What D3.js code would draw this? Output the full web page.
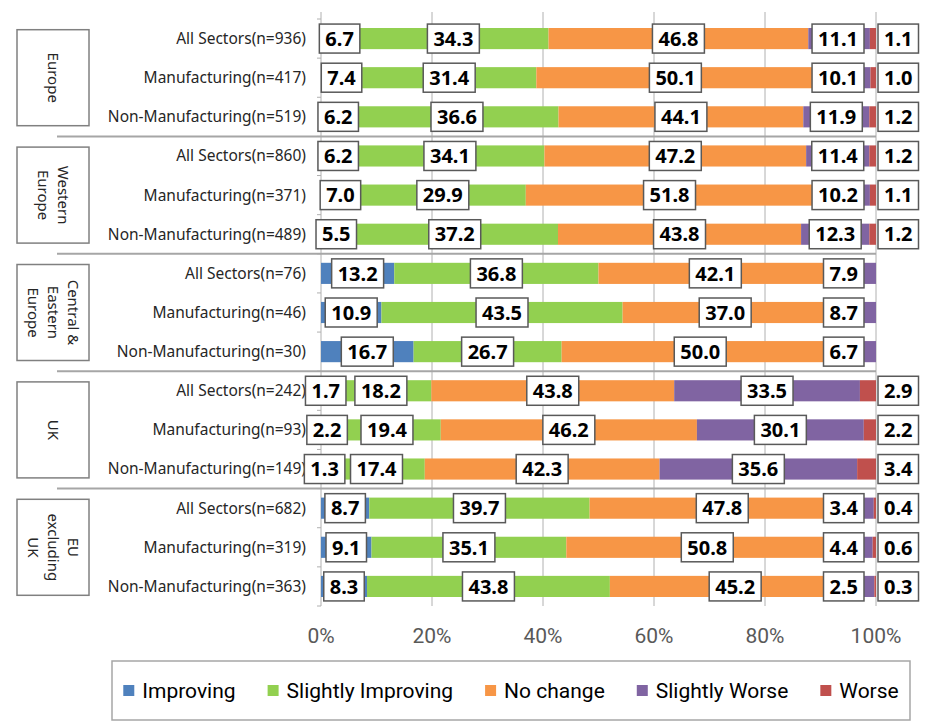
<!DOCTYPE html>
<html>
<head>
<meta charset="utf-8">
<script src="https://cdn.jsdelivr.net/npm/d3@7"></script>
<style>
	body { margin: 0; background: #fff; }
	svg { display: block; }
</style>
</head>
<body>
<svg id="chart" width="926" height="725"></svg>
<script>
const categories = [
	'All Sectors(n=936)', 'Manufacturing(n=417)', 'Non-Manufacturing(n=519)',
	'All Sectors(n=860)', 'Manufacturing(n=371)', 'Non-Manufacturing(n=489)',
	'All Sectors(n=76)', 'Manufacturing(n=46)', 'Non-Manufacturing(n=30)',
	'All Sectors(n=242)', 'Manufacturing(n=93)', 'Non-Manufacturing(n=149)',
	'All Sectors(n=682)', 'Manufacturing(n=319)', 'Non-Manufacturing(n=363)',
];
const groups = [
	['Europe'],
	['Western', 'Europe'],
	['Central &', 'Eastern', 'Europe'],
	['UK'],
	['EU', 'excluding', 'UK'],
];
const seriesNames = ['Improving', 'Slightly Improving', 'No change', 'Slightly Worse', 'Worse'];
const improving = [6.7, 7.4, 6.2, 6.2, 7.0, 5.5, 13.2, 10.9, 16.7, 1.7, 2.2, 1.3, 8.7, 9.1, 8.3];
const slightlyImproving = [34.3, 31.4, 36.6, 34.1, 29.9, 37.2, 36.8, 43.5, 26.7, 18.2, 19.4, 17.4, 39.7, 35.1, 43.8];
const noChange = [46.8, 50.1, 44.1, 47.2, 51.8, 43.8, 42.1, 37.0, 50.0, 43.8, 46.2, 42.3, 47.8, 50.8, 45.2];
const slightlyWorse = [11.1, 10.1, 11.9, 11.4, 10.2, 12.3, 7.9, 8.7, 6.7, 33.5, 30.1, 35.6, 3.4, 4.4, 2.5];
const worse = [1.1, 1.0, 1.2, 1.2, 1.1, 1.2, 0, 0, 0, 2.9, 2.2, 3.4, 0.4, 0.6, 0.3];
const xTicks = [0, 0.2, 0.4, 0.6, 0.8, 1];
const colors = ['#4f81bd', '#92d050', '#f79646', '#8064a2', '#c0504d'];

const seriesValues = [improving, slightlyImproving, noChange, slightlyWorse, worse];
const rows = categories.map((name, i) => {
	const row = { i, name };
	seriesNames.forEach((s, k) => { row[s] = seriesValues[k][i]; });
	return row;
});

const svg = d3.select('#chart');
const x = d3.scaleLinear().domain([0, 1]).range([321, 876]);
const y = d3.scaleBand().domain(rows.map(d => d.i)).range([19, 606]).paddingInner(0.46).paddingOuter(0.23);
const color = d3.scaleOrdinal().domain(seriesNames).range(colors);
const stacked = d3.stack().keys(seriesNames).offset(d3.stackOffsetExpand)(rows);
const step = y.step();
const plotTop = y(0) - y.paddingOuter() * step;

// gridlines
svg.append('g').selectAll('line').data(xTicks).enter().append('line')
	.attr('x1', d => x(d)).attr('x2', d => x(d))
	.attr('y1', 12).attr('y2', 606)
	.attr('stroke', '#b0b0b0').attr('stroke-width', 1);

// small ticks on category axis
svg.append('g').selectAll('line').data(d3.range(categories.length + 1)).enter().append('line')
	.attr('x1', x(0) - 4).attr('x2', x(0))
	.attr('y1', d => plotTop + d * step).attr('y2', d => plotTop + d * step)
	.attr('stroke', '#b0b0b0');

// group separators
svg.append('g').selectAll('line').data([1, 2, 3, 4]).enter().append('line')
	.attr('x1', 57).attr('x2', x(1))
	.attr('y1', d => plotTop + d * 3 * step).attr('y2', d => plotTop + d * 3 * step)
	.attr('stroke', '#a6a6a6').attr('stroke-width', 2);

// bars
svg.append('g').selectAll('g').data(stacked).enter().append('g')
	.attr('fill', d => color(d.key))
	.selectAll('rect').data(d => d).enter().append('rect')
	.attr('x', d => x(d[0])).attr('width', d => x(d[1]) - x(d[0]))
	.attr('y', d => y(d.data.i)).attr('height', y.bandwidth());

// category labels
svg.append('g').selectAll('text').data(rows).enter().append('text')
	.attr('x', 306).attr('y', d => y(d.i) + y.bandwidth() / 2)
	.attr('dy', '0.35em').attr('text-anchor', 'end')
	.style('font', '15.5px "Noto Sans", sans-serif').attr('fill', '#262626')
	.text(d => d.name);

// group boxes
const gGroups = svg.append('g').selectAll('g').data(groups).enter().append('g')
	.attr('transform', (d, i) => `translate(53,${plotTop + (i * 3 + 1.5) * step})`);
gGroups.append('rect')
	.attr('x', -36).attr('y', -48).attr('width', 72).attr('height', 96)
	.attr('fill', '#fff').attr('stroke', '#808080').attr('stroke-width', 1.5);
gGroups.append('g').attr('transform', 'rotate(90)')
	.selectAll('text').data(d => d.map((t, k) => ({ t, off: (k - (d.length - 1) / 2) * 20 })))
	.enter().append('text')
	.attr('x', 0).attr('y', d => d.off).attr('dy', '0.35em').attr('text-anchor', 'middle')
	.style('font', '15px "Noto Sans", sans-serif').attr('fill', '#262626')
	.text(d => d.t);

// data labels
const labels = [];
stacked.forEach((s, k) => {
	s.forEach(d => {
		const v = d.data[s.key];
		if (!v) return;
		labels.push({ key: s.key, k, v, d, i: d.data.i });
	});
});
const gLabels = svg.append('g').selectAll('g').data(labels).enter().append('g');
gLabels.append('rect');
gLabels.append('text')
	.attr('text-anchor', 'middle').attr('dy', '0.36em')
	.style('font', 'bold 20px "Noto Sans", sans-serif').attr('fill', '#000')
	.text(d => d.v.toFixed(1));
gLabels.each(function (d) {
	const g = d3.select(this);
	const w = g.select('text').node().getComputedTextLength() + 12;
	let cx;
	if (d.key === 'Worse') {
		cx = x(1) + 2 + w / 2;
	} else {
		cx = (x(d.d[0]) + x(d.d[1])) / 2;
		cx = Math.min(cx, x(1) - 12 - w / 2);
	}
	const cy = y(d.i) + y.bandwidth() / 2;
	g.attr('transform', `translate(${cx},${cy})`);
	g.select('rect').attr('x', -w / 2).attr('y', -14.5).attr('width', w).attr('height', 29)
		.attr('fill', '#fff').attr('stroke', '#595959').attr('stroke-width', 1.5);
});

// x axis labels
svg.append('g').selectAll('text').data(xTicks).enter().append('text')
	.attr('x', d => x(d)).attr('y', 643).attr('text-anchor', 'middle')
	.style('font', '21px Roboto, sans-serif').attr('fill', '#595959')
	.text(d3.format('.0%'));

// legend
const legend = svg.append('g');
legend.append('rect')
	.attr('x', 112).attr('y', 661).attr('width', 798).attr('height', 59)
	.attr('fill', '#fff').attr('stroke', '#a6a6a6').attr('stroke-width', 1.5);
const items = legend.append('g').selectAll('g').data(seriesNames).enter().append('g');
items.append('rect').attr('x', 0).attr('y', -6).attr('width', 11).attr('height', 11)
	.attr('fill', d => color(d));
items.append('text').attr('x', 19).attr('dy', '0.35em')
	.style('font', '21px Roboto, sans-serif').attr('fill', '#000')
	.text(d => d);
let lx = 0;
const pos = [];
items.each(function () {
	pos.push(lx);
	lx += this.getBBox().width + 32;
});
lx -= 32;
const start = 112 + (798 - lx) / 2;
items.attr('transform', (d, k) => `translate(${start + pos[k]},691)`);
</script>
</body>
</html>
